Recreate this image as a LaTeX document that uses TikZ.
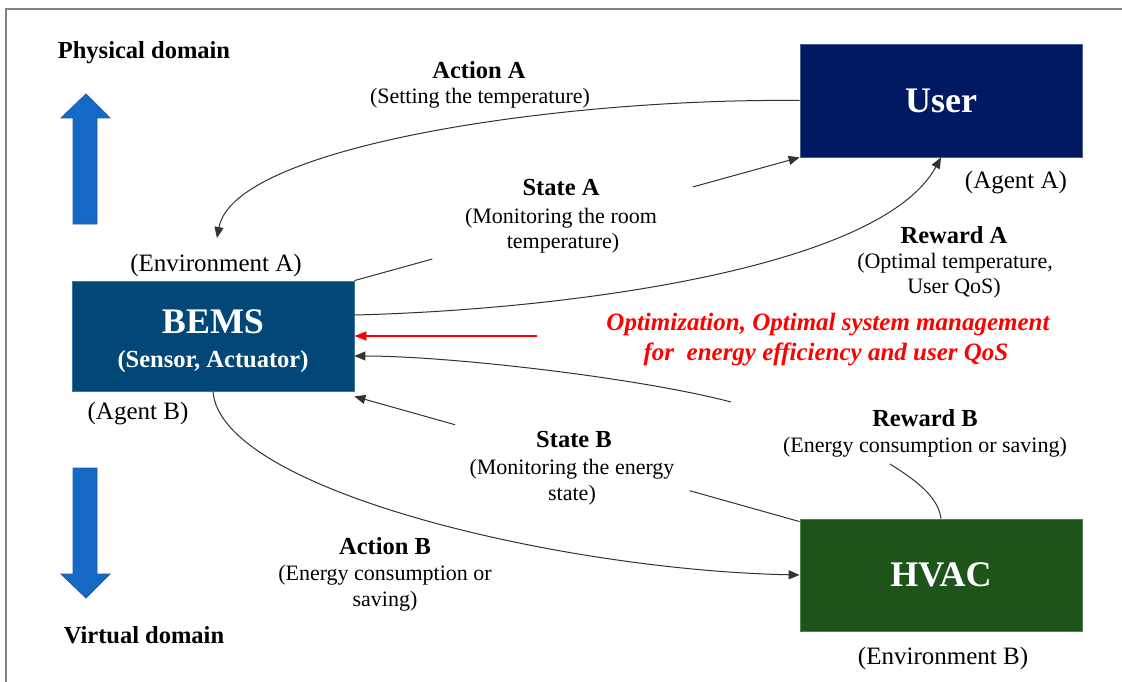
\documentclass[tikz,border=0pt]{standalone}
\usepackage{fontspec}
\setmainfont{Liberation Serif}
\usetikzlibrary{arrows.meta,calc}
\definecolor{usercol}{RGB}{0,25,96}
\definecolor{bemscol}{RGB}{1,72,120}
\definecolor{hvaccol}{RGB}{30,83,26}
\definecolor{bluearr}{RGB}{20,106,196}
\definecolor{bluearrline}{RGB}{40,88,160}
\definecolor{linecol}{RGB}{50,50,50}
\definecolor{framecol}{RGB}{130,130,130}
\begin{document}
\begin{tikzpicture}[x=1pt,y=-1pt,
  box/.style={rectangle, minimum width=282pt, inner sep=0pt, text=white,
    font=\fontsize{36}{40}\selectfont\bfseries, line width=0.8pt},
  lbl/.style={font=\fontsize{24.5}{28}\selectfont\bfseries, anchor=base, inner sep=0pt},
  desc/.style={font=\fontsize{22}{26}\selectfont, anchor=base, inner sep=0pt},
  tag/.style={font=\fontsize{25}{29}\selectfont, anchor=base, inner sep=0pt},
  inbox/.style={text=white, anchor=base, inner sep=0pt},
  redtxt/.style={font=\fontsize{25}{29}\selectfont\bfseries\itshape, text=red, anchor=base, inner sep=0pt},
  conn/.style={draw=linecol, line width=1pt},
  arr/.style={-{Triangle[length=11pt,width=9pt]}},
  blockarrow/.style={fill=bluearr, draw=bluearrline, line width=0.8pt}
]
\useasboundingbox (0,0) rectangle (1122,682);
\fill[white] (0,0) rectangle (1122,682);
\draw[framecol, line width=1.5pt] (6,682) -- (6,9) -- (1122,9);

% boxes
\node[box, fill=usercol, draw=usercol!70!white, minimum height=113pt] (user) at (941,100.5) {User};
\node[box, fill=bemscol, draw=bemscol!75!white, minimum height=110pt] (bems) at (213,336) {};
\node[inbox, font=\fontsize{36}{40}\selectfont\bfseries] (bemsT) at (213,333) {BEMS};
\node[inbox, font=\fontsize{24.5}{28}\selectfont\bfseries] (bemsS) at (213,367) {(Sensor, Actuator)};
\node[box, fill=hvaccol, draw=hvaccol!75!white, minimum height=112pt] (hvac) at (941,575) {HVAC};

% block arrows
\filldraw[blockarrow] (73,224) -- (73,118) -- (61,118) -- (86,94) -- (110,118) -- (97,118) -- (97,224) -- cycle;
\filldraw[blockarrow] (73,468) -- (97,468) -- (97,574) -- (110,574) -- (86,598) -- (61,574) -- (73,574) -- cycle;

% texts
\node[lbl] (phys) at (144,59) {Physical domain};
\node[lbl] (virt) at (144,643) {Virtual domain};

\node[lbl] (actA) at (479,79) {Action A};
\node[desc] (actAd) at (480,104) {(Setting the temperature)};

\node[lbl] (stA) at (561,196) {State A};
\node[desc] (stAd1) at (561,223) {(Monitoring the room};
\node[desc] (stAd2) at (563,248) {temperature)};

\node[tag] (envA) at (216,271) {(Environment A)};
\node[tag] (agA) at (1016,189) {(Agent A)};

\node[lbl] (rwA) at (954,243) {Reward A};
\node[desc] (rwAd1) at (955,268) {(Optimal temperature,};
\node[desc] (rwAd2) at (954,293) {User QoS)};

\node[redtxt] (opt1) at (828,330) {Optimization, Optimal system management};
\node[redtxt] (opt2) at (826,360) {for\ \ energy efficiency and user QoS};

\node[tag] (agB) at (138,419) {(Agent B)};

\node[lbl] (rwB) at (925,426) {Reward B};
\node[desc] (rwBd) at (925,452) {(Energy consumption or saving)};

\node[lbl] (stB) at (574,447) {State B};
\node[desc] (stBd1) at (572,474) {(Monitoring the energy};
\node[desc] (stBd2) at (572,500) {state)};

\node[lbl] (actB) at (385,554) {Action B};
\node[desc] (actBd1) at (385,580) {(Energy consumption or};
\node[desc] (actBd2) at (385,606) {saving)};

\node[tag] (envB) at (943,664) {(Environment B)};

% connectors
\coordinate (aAend) at (217,238);
\draw[conn, arr] (user.west) .. controls (560,98) and (234,146) .. (aAend);

\coordinate (sA1) at ($(bems.north east)!0.175!(user.south west)$);
\coordinate (sA2) at ($(bems.north east)!0.76!(user.south west)$);
\draw[conn] (bems.north east) -- (sA1);
\draw[conn, arr] (sA2) -- (user.south west);

\draw[conn, arr] ([yshift=21pt]bems.east) .. controls (560,310) and (880,270) .. (user.south);

\coordinate (redstart) at (537,336);
\draw[red, line width=1.6pt, -{Triangle[length=12pt,width=9pt]}] (redstart) -- (bems.east);

\coordinate (rB1) at (731,402);
\draw[conn, arr] (rB1) .. controls (640,378) and (450,356) .. ([yshift=-20pt]bems.east);
\coordinate (rB2) at (890,464);
\draw[conn] (rB2) .. controls (912,478) and (938,495) .. (hvac.north);

\coordinate (hvNW) at ([yshift=-3pt]hvac.north west);
\coordinate (bmSE) at ([yshift=-5pt]bems.south east);
\coordinate (sB1) at ($(hvNW)!0.247!(bmSE)$);
\coordinate (sB2) at ($(hvNW)!0.774!(bmSE)$);
\draw[conn] (hvNW) -- (sB1);
\draw[conn, arr] (sB2) -- (bmSE);

\draw[conn, arr] (bems.south) .. controls (220,490) and (560,570) .. (hvac.west);
\end{tikzpicture}
\end{document}
